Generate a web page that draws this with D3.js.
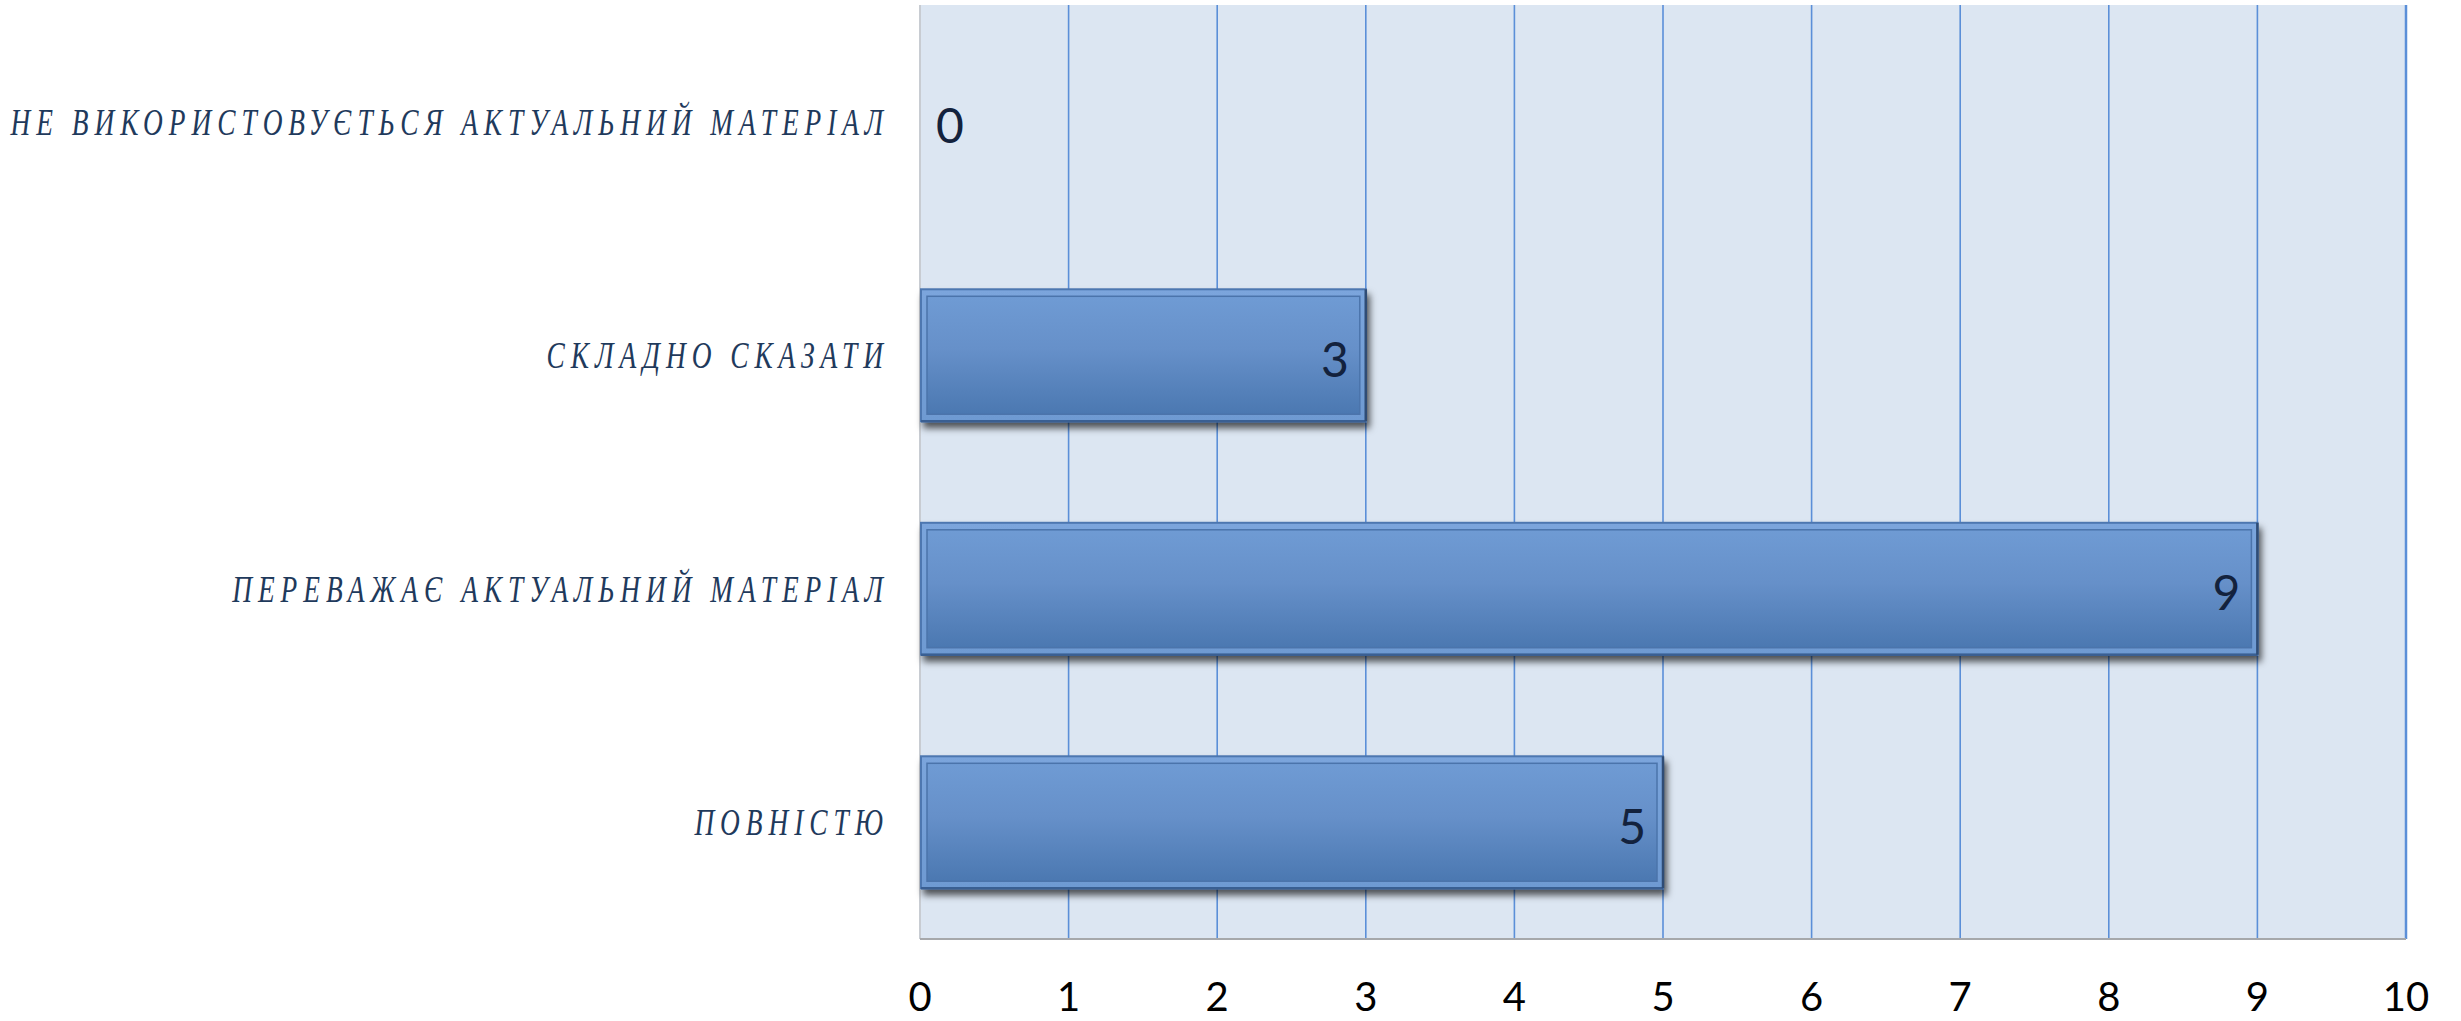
<!DOCTYPE html>
<html>
<head>
<meta charset="utf-8">
<script src="https://cdn.jsdelivr.net/npm/d3@7"></script>
<style>
  html, body { margin: 0; padding: 0; background: #ffffff; }
  svg { display: block; }
</style>
</head>
<body>
<script>
// ---- data ----
const categories = [
  "НЕ ВИКОРИСТОВУЄТЬСЯ АКТУАЛЬНИЙ МАТЕРІАЛ",
  "СКЛАДНО СКАЗАТИ",
  "ПЕРЕВАЖАЄ АКТУАЛЬНИЙ МАТЕРІАЛ",
  "ПОВНІСТЮ"
];
const values = [0, 3, 9, 5];
const xTicks = [0, 1, 2, 3, 4, 5, 6, 7, 8, 9, 10];

// ---- layout ----
const W = 2461, H = 1021;
const plot = { left: 920, right: 2406, top: 5, bottom: 939 };

const svg = d3.select("body").append("svg").attr("width", W).attr("height", H);
const defs = svg.append("defs");

const grad = defs.append("linearGradient").attr("id", "barGrad")
  .attr("x1", 0).attr("y1", 0).attr("x2", 0).attr("y2", 1);
grad.append("stop").attr("offset", "0%").attr("stop-color", "#6f9bd4");
grad.append("stop").attr("offset", "45%").attr("stop-color", "#6690c9");
grad.append("stop").attr("offset", "100%").attr("stop-color", "#4b78b1");

const rim = defs.append("linearGradient").attr("id", "rimGrad")
  .attr("x1", 0).attr("y1", 0).attr("x2", 0).attr("y2", 1);
rim.append("stop").attr("offset", "0%").attr("stop-color", "#7ba5dc");
rim.append("stop").attr("offset", "100%").attr("stop-color", "#6e9ad2");

const shadow = defs.append("filter").attr("id", "shadow")
  .attr("x", "-5%").attr("y", "-20%").attr("width", "115%").attr("height", "150%");
shadow.append("feDropShadow").attr("dx", 3).attr("dy", 6).attr("stdDeviation", 3.5)
  .attr("flood-color", "#000").attr("flood-opacity", 0.65);

const x = d3.scaleLinear().domain([0, 10]).range([plot.left, plot.right]);
const y = d3.scaleBand().domain(categories).range([plot.top, plot.bottom])
  .paddingInner(0.435).paddingOuter(0.2175);

// background
svg.append("rect")
  .attr("x", plot.left).attr("y", plot.top)
  .attr("width", plot.right - plot.left).attr("height", plot.bottom - plot.top)
  .attr("fill", "#dce6f2");

// gridlines
svg.append("g").selectAll("line").data(xTicks.filter(d => d > 0)).join("line")
  .attr("x1", d => x(d)).attr("x2", d => x(d))
  .attr("y1", plot.top).attr("y2", plot.bottom)
  .attr("stroke", "#5b8fd8")
  .attr("stroke-width", d => d === 10 ? 2.5 : 1.6);

// axis lines
svg.append("line").attr("x1", plot.left).attr("x2", plot.left)
  .attr("y1", plot.top).attr("y2", plot.bottom)
  .attr("stroke", "#c8ccd2").attr("stroke-width", 2);
svg.append("line").attr("x1", plot.left).attr("x2", plot.right)
  .attr("y1", plot.bottom).attr("y2", plot.bottom)
  .attr("stroke", "#a6a8ab").attr("stroke-width", 2);

// bars
const bars = svg.append("g").selectAll("g").data(categories.map((c, i) => ({ c, v: values[i] })).filter(d => d.v > 0)).join("g");
bars.append("rect")
  .attr("x", x(0) + 1).attr("y", d => y(d.c))
  .attr("width", d => x(d.v) - x(0) - 1).attr("height", y.bandwidth())
  .attr("fill", "url(#rimGrad)").attr("stroke", "#4d77b0").attr("stroke-width", 2)
  .attr("filter", "url(#shadow)");
bars.append("rect")
  .attr("x", x(0) + 7).attr("y", d => y(d.c) + 7)
  .attr("width", d => x(d.v) - x(0) - 13).attr("height", y.bandwidth() - 14)
  .attr("fill", "url(#barGrad)").attr("stroke", "#4b74ab").attr("stroke-width", 1.5);
// bottom & right dark edge
bars.append("line")
  .attr("x1", x(0) + 1).attr("x2", d => x(d.v))
  .attr("y1", d => y(d.c) + y.bandwidth()).attr("y2", d => y(d.c) + y.bandwidth())
  .attr("stroke", "#3a5f92").attr("stroke-width", 2.5);
bars.append("line")
  .attr("x1", d => x(d.v)).attr("x2", d => x(d.v))
  .attr("y1", d => y(d.c)).attr("y2", d => y(d.c) + y.bandwidth())
  .attr("stroke", "#2f4c75").attr("stroke-width", 2.5);

// value labels
svg.append("g").selectAll("text").data(categories.map((c, i) => ({ c, v: values[i] }))).join("text")
  .attr("x", d => d.v > 0 ? x(d.v) - 17 : x(0) + 16)
  .attr("y", d => y(d.c) + y.bandwidth() / 2 + 3)
  .attr("text-anchor", d => d.v > 0 ? "end" : "start")
  .attr("dominant-baseline", "central")
  .attr("font-family", "Lato, 'Open Sans', sans-serif")
  .attr("font-size", 48)
  .attr("fill", "#13223d")
  .text(d => d.v);

// category labels
const labelG = svg.append("g");
labelG.selectAll("text").data(categories).join("text")
  .attr("transform", d => `translate(889,${y(d) + y.bandwidth() / 2}) scale(0.72,1)`)
  .attr("text-anchor", "end")
  .attr("dominant-baseline", "central")
  .attr("font-family", "'Liberation Serif', 'Times New Roman', serif")
  .attr("font-style", "italic")
  .attr("font-size", 38)
  .attr("letter-spacing", "8.3px")
  .attr("fill", "#1f3a5c")
  .text(d => d);

// x axis tick labels
svg.append("g").selectAll("text").data(xTicks).join("text")
  .attr("x", d => x(d)).attr("y", 1011)
  .attr("text-anchor", "middle")
  .attr("font-family", "Lato, 'Open Sans', sans-serif")
  .attr("font-size", 40)
  .attr("fill", "#000")
  .text(d => d);
</script>
</body>
</html>
